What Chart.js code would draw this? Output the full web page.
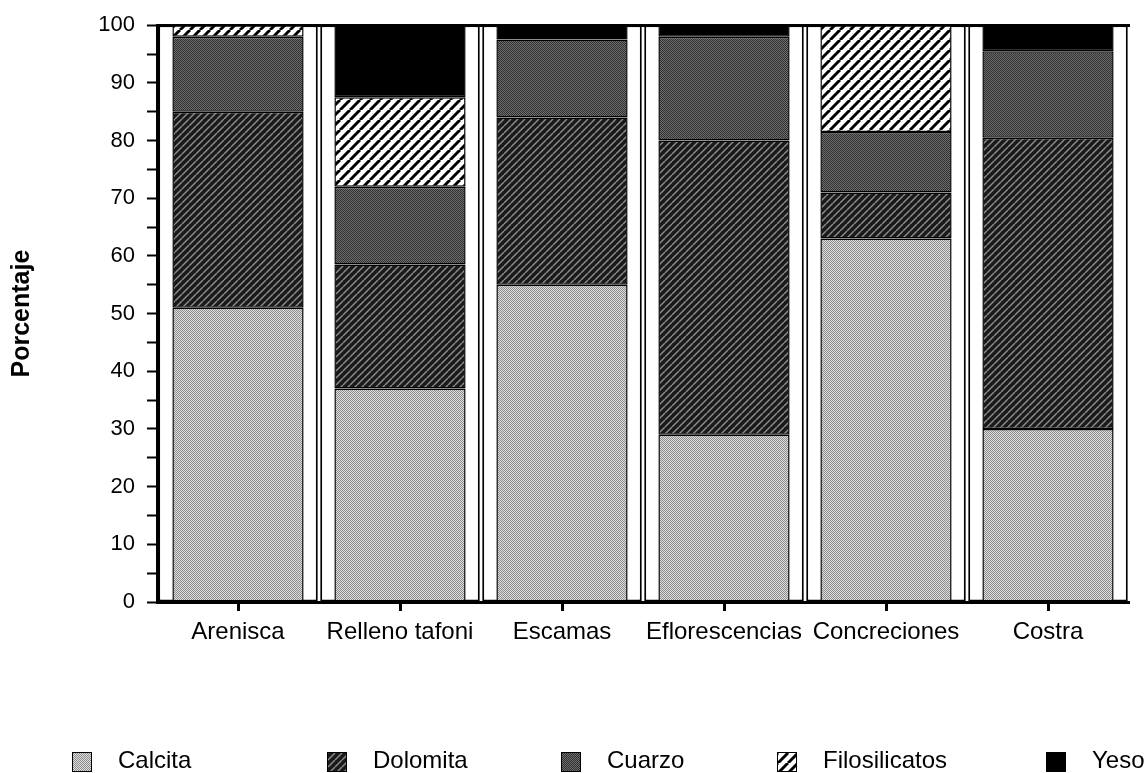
<!DOCTYPE html>
<html>
<head>
<meta charset="utf-8">
<script src="https://cdn.jsdelivr.net/npm/chart.js@4.4.1/dist/chart.umd.min.js"></script>
<style>
  html, body { margin:0; padding:0; background:#fff; }
  #wrap { position:relative; width:1148px; height:773px; }
  #legend .sw { position:absolute; width:18px; height:18px; border:1px solid #000; box-sizing:content-box; }
  #legend .tx { position:absolute; font:24px "Liberation Sans", Arial, sans-serif; color:#000; line-height:24px; white-space:nowrap; }
</style>
</head>
<body>
<div id="wrap">
  <canvas id="chart"></canvas>
  <div id="legend"></div>
</div>
<script>
/* ===== Data ===== */
const CATEGORIES    = ['Arenisca','Relleno tafoni','Escamas','Eflorescencias','Concreciones','Costra'];
const CALCITA       = [51, 37, 55, 29, 63, 30];
const DOLOMITA      = [34, 21.5, 29, 51, 8, 50.5];
const CUARZO        = [13, 13.5, 13.5, 18, 10.5, 15];
const FILOSILICATOS = [2, 15.5, 0, 0, 18.5, 0];
const YESO          = [0, 12.5, 2.5, 2, 0, 4.5];
const FRAME         = [100, 100, 100, 100, 100, 100];
const Y_TICKS       = [0,10,20,30,40,50,60,70,80,90,100];

const FONT = '"Liberation Sans", Arial, Helvetica, sans-serif';

/* ===== Fill patterns ===== */
function tile(size, draw){
  const c = document.createElement('canvas');
  c.width = c.height = size;
  const g = c.getContext('2d');
  draw(g, size);
  return c;
}
function stipple(light, dark){
  return tile(2, (g) => {
    g.fillStyle = light; g.fillRect(0,0,2,2);
    g.fillStyle = dark;  g.fillRect(0,0,1,1); g.fillRect(1,1,1,1);
  });
}
function hatch(size, bg, fg, width){
  return tile(size, (g, s) => {
    g.fillStyle = bg; g.fillRect(0,0,s,s);
    g.strokeStyle = fg; g.lineWidth = width;
    for (const x0 of [-s, 0, s]) {
      g.beginPath(); g.moveTo(x0, s); g.lineTo(x0 + s, 0); g.stroke();
    }
  });
}
const tiles = {
  calcita: stipple('#dcdcdc', '#8e8e8e'),
  dolomita: hatch(7, '#1a1a1a', '#8e8e8e', 1.4),
  cuarzo: stipple('#6c6c6c', '#323232'),
  filos: hatch(10, '#ffffff', '#000000', 3),
  yeso: tile(2, (g) => { g.fillStyle = '#000'; g.fillRect(0,0,2,2); }),
};
const pat = k => tiles[k].getContext('2d').createPattern(tiles[k], 'repeat');

/* ===== Chart ===== */
const mineral = (label, data, key) => ({
  label, data, key,
  backgroundColor: pat(key),
  borderColor: '#000', borderWidth: 1.5, borderSkipped: false,
  stack: 'm', categoryPercentage: 1, barPercentage: 0.81, order: 0,
});

const datasets = [
  mineral('Calcita', CALCITA, 'calcita'),
  mineral('Dolomita', DOLOMITA, 'dolomita'),
  mineral('Cuarzo', CUARZO, 'cuarzo'),
  mineral('Filosilicatos', FILOSILICATOS, 'filos'),
  mineral('Yeso', YESO, 'yeso'),
  { label:'frame', data: FRAME, stack:'frame', grouped:false, order:1,
    backgroundColor:'#fff', borderColor:'#000', borderWidth:2, borderSkipped:false,
    categoryPercentage:1, barPercentage:0.985 },
];

new Chart(document.getElementById('chart'), {
  type: 'bar',
  data: { labels: CATEGORIES, datasets },
  options: {
    responsive: true, maintainAspectRatio: false, animation: false, devicePixelRatio: 1,
    layout: { padding: { left: 0, right: 19, top: 17, bottom: 111 } },
    plugins: { legend: { display: false }, tooltip: { enabled: false } },
    scales: {
      x: {
        stacked: true, offset: true,
        grid: { drawOnChartArea: false, drawTicks: true, tickLength: 9, tickWidth: 3, tickColor: '#000', offset: false },
        border: { color: '#000', width: 3 },
        ticks: { color: '#000', font: { size: 24, family: FONT }, padding: 7, maxRotation: 0, autoSkip: false },
        afterFit: s => { s.height = 60; },
      },
      x2: {
        type: 'category', position: 'top', labels: CATEGORIES, offset: true,
        grid: { display: false }, ticks: { display: false },
        border: { display: true, color: '#000', width: 3 },
        afterFit: s => { s.height = 0; },
      },
      y: {
        stacked: true, min: 0, max: 100,
        ticks: { stepSize: 5, autoSkip: false, color: '#000', padding: 12,
                 font: { size: 22, family: FONT },
                 callback: v => Y_TICKS.includes(v) ? v : '' },
        grid: { drawOnChartArea: false, tickLength: 10, tickWidth: 2, tickColor: '#000' },
        border: { color: '#000', width: 3 },
        title: { display: true, text: 'Porcentaje', color: '#000',
                 font: { size: 25, weight: 'bold', family: FONT }, padding: { top: 7, bottom: 0 } },
        afterFit: s => { s.width = 157; },
      },
    },
  },
});

/* ===== Legend ===== */
const LEGEND_X = [72, 327, 561, 777, 1046];
const legend = document.getElementById('legend');
datasets.filter(d => d.key).forEach((d, i) => {
  const sw = document.createElement('div');
  sw.className = 'sw';
  sw.style.left = LEGEND_X[i] + 'px';
  sw.style.top = '752px';
  sw.style.backgroundImage = `url(${tiles[d.key].toDataURL()})`;
  const tx = document.createElement('div');
  tx.className = 'tx';
  tx.style.left = (LEGEND_X[i] + 46) + 'px';
  tx.style.top = '748px';
  tx.textContent = d.label;
  legend.appendChild(sw);
  legend.appendChild(tx);
});
</script>
</body>
</html>
